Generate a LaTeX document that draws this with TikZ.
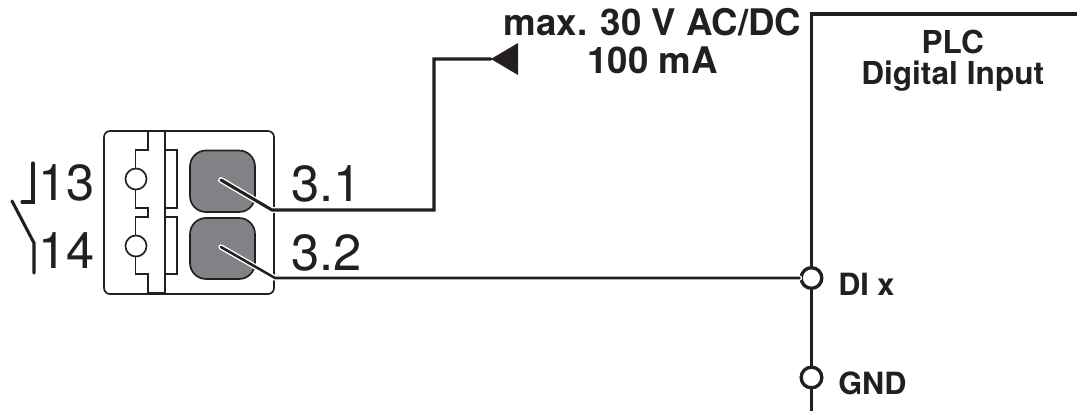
\documentclass[tikz,border=0pt]{standalone}
\usepackage{fontspec}
\setmainfont{TeX Gyre Heros}
\definecolor{ink}{RGB}{35,31,32}
\definecolor{termgray}{RGB}{128,130,133}
\tikzset{
  x=0.75pt,y=-0.75pt,
  thinline/.style={draw=ink,line width=1.25pt},
  wire/.style={draw=ink,line width=2.3pt},
  thinwire/.style={draw=ink,line width=1.9pt},
  bigtext/.style={font=\fontsize{38}{38}\selectfont,text=ink,inner sep=0pt,anchor=base west},
  boldtext/.style={font=\fontsize{27.5}{28.5}\bfseries\selectfont,text=ink,inner sep=0pt,align=center},
  plctext/.style={font=\fontsize{23.7}{23.5}\bfseries\selectfont,text=ink,inner sep=0pt,align=center},
  pintext/.style={font=\fontsize{23}{24}\bfseries\selectfont,text=ink,inner sep=0pt,anchor=base west},
  terminal/.style={draw=ink,fill=termgray,line width=1.25pt,rounded corners=12pt},
  port/.style={circle,draw=ink,fill=white,line width=2.5pt,minimum size=15.5pt,inner sep=0pt},
  screw/.style={circle,draw=ink,fill=white,line width=1.25pt,minimum size=15.8pt,inner sep=0pt},
}
\begin{document}
\begin{tikzpicture}
\useasboundingbox (0,0) rectangle (1077,412);
% connector body
\draw[thinline,rounded corners=4.5pt] (104,131) rectangle (274,294);
\draw[thinline] (148,131) -- (148,150) -- (135.5,150) -- (135.5,208) -- (148,208) -- (148,217) -- (135.5,217) -- (135.5,274) -- (148,274) -- (148,294);
\draw[thinline] (165,131) -- (165,294);
\draw[thinline] (148,293) -- (165,293);
\draw[thinline] (165,150) -- (177,150) -- (177,208) -- (165,208);
\draw[thinline] (165,217) -- (177,217) -- (177,274) -- (165,274);
\node[screw] (s1) at (136,179) {};
\node[screw] (s2) at (136,246) {};
\draw[terminal] (190,150.5) rectangle (255,212);
\draw[terminal] (190,218) rectangle (255,279);
% contact
\draw[wire,line cap=round] (33,163) -- (33,202) -- (22,202);
\draw[wire,line cap=round] (12,201) -- (34,243) -- (34,273);
% labels
\node[bigtext] (l13) at (38,200) {13};
\node[bigtext] (l14) at (38,268) {14};
\node[boldtext] (lmax) at (652.5,41) {max. 30 V AC/DC\\100 mA};
\node[plctext] (lplc) at (952.7,61) {PLC\\Digital Input};
% PLC side
\coordinate (top) at (1077,14);
\coordinate (corner) at (811.5,14);
\coordinate (bottom) at (811.5,411);
\draw[wire] (top) -- (corner) -- (bottom);
\node[port] (di) at (811.5,278) {};
\node[port] (gnd) at (811.5,377.5) {};
\node[pintext] (ldi) at (838,295) {DI x};
\node[pintext] (lgnd) at (838,394) {GND};
% arrow
\coordinate (tip) at (491,59);
\coordinate (a1) at (518,43);
\coordinate (a2) at (518,75);
\coordinate (w1) at (221,180);
\coordinate (w2) at (272,210);
\coordinate (w3) at (434,210);
\coordinate (w4) at (434,59);
\coordinate (v1) at (221,247);
\coordinate (v2) at (275,278);
\draw[white,line width=4.4pt,line cap=round] (w1) -- (w2) -- (w3);
\draw[white,line width=4pt,line cap=round] (v1) -- (v2) -- (di.west);
\node[bigtext] (l31) at (291,201.5) {3.1};
\node[bigtext] (l32) at (291,270) {3.2};
\draw[wire,line cap=round,line join=miter] (w1) -- (w2) -- (w3) -- (w4) -- (tip);
\draw[thinwire,line cap=round] (v1) -- (v2) -- (di.west);
\fill[ink] (tip) -- (a1) -- (a2) -- cycle;
\end{tikzpicture}
\end{document}
